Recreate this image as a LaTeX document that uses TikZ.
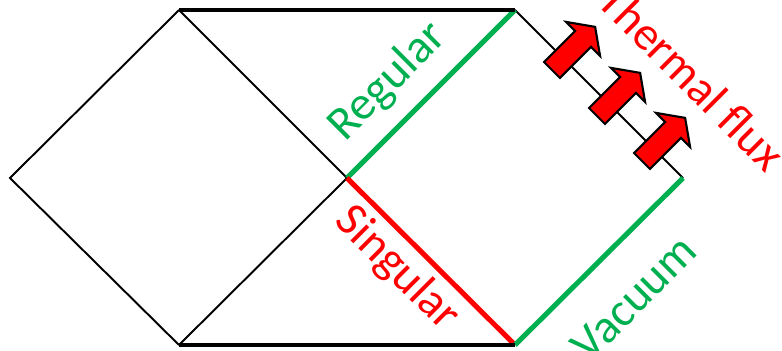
\documentclass[tikz,border=0pt]{standalone}
\usepackage{fontspec}
\setmainfont{Carlito}
\usepackage{tikz}
\usetikzlibrary{calc,positioning}

\definecolor{vacgreen}{RGB}{0,176,80}
\definecolor{singred}{RGB}{255,0,0}

\begin{document}
\begin{tikzpicture}[
        x=0.02cm, y=-0.02cm,
        % Style cho các cạnh của giản đồ
        edge/.style={black, line width=1.1pt},
        horizon/.style={black, line width=2.6pt},
        regline/.style={vacgreen, line width=2.9pt},
        singline/.style={singred, line width=2.9pt},
        % Style cho chữ
        tag/.style={font=\fontsize{27}{32}\selectfont, inner sep=0pt},
        % Style cho mũi tên dòng nhiệt
        fluxarrow/.style={draw=black, fill=singred, line width=1.2pt, line join=miter}
    ]
        \useasboundingbox (0,0) rectangle (782,351);

        % 1. Các đỉnh của giản đồ
        \coordinate (left) at (10,178);
        \coordinate (top1) at (179,10);
        \coordinate (bot1) at (179,345);
        \coordinate (mid) at (347,178);
        \coordinate (top2) at (515,10);
        \coordinate (bot2) at (515,345);
        \coordinate (right) at (683,178);

        % 2. Các cạnh mảnh
        \draw[edge] (top1) -- (left) -- (bot1);
        \draw[edge] (top1) -- (mid) -- (bot1);
        \draw[edge] (top2) -- (right);

        % 3. Các cạnh màu
        \draw[regline] (mid) -- (top2);
        \draw[singline] (mid) -- (bot2);
        \draw[regline] (bot2) -- (right);

        % 4. Cạnh trên và dưới
        \draw[horizon] (top1) -- (top2);
        \draw[horizon] (bot1) -- (bot2);

        % 5. Các mũi tên dòng nhiệt
        \foreach \px/\py in {552/70, 597/116, 642/161} {
            \begin{scope}[shift={(\px,\py)}, rotate=45]
                \draw[fluxarrow] (0,-11.3) -- (44,-11.3) -- (44,-24) -- (61,0)
                    -- (44,24) -- (44,11.3) -- (0,11.3) -- cycle;
            \end{scope}
        }

        % 6. Nhãn
        \node[tag, text=vacgreen, rotate=45] (regular) at (388,82) {Regular};
        \node[tag, text=singred, rotate=-45] (singular) at (397,269) {Singular};
        \node[tag, text=vacgreen, rotate=45] (vacuum) at (634,298) {Vacuum};
        \node[tag, text=singred, rotate=-45] (flux) at (692,77) {Thermal flux};

\end{tikzpicture}
\end{document}
